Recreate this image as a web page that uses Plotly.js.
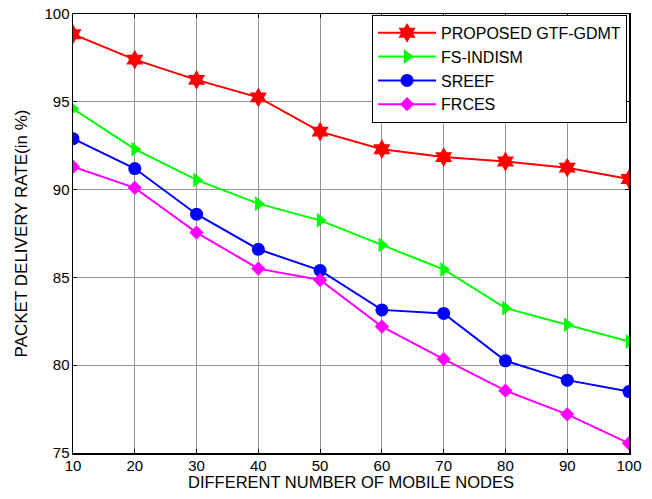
<!DOCTYPE html>
<html><head><meta charset="utf-8">
<script src="https://cdn.plot.ly/plotly-3.0.1.min.js"></script>
<style>html,body{margin:0;padding:0;background:#fff;}#c{width:652px;height:499px;}</style>
</head><body><div id="c"></div>
<script>
const nodes = [10,20,30,40,50,60,70,80,90,100];
const proposed = [98.85,97.4,96.25,95.25,93.3,92.3,91.85,91.6,91.25,90.6];
const fsIndism = [94.6,92.3,90.55,89.2,88.25,86.85,85.45,83.25,82.3,81.35];
const sreef = [92.9,91.2,88.6,86.6,85.4,83.15,82.95,80.25,79.15,78.5];
const frces = [91.3,90.1,87.55,85.5,84.85,82.2,80.35,78.55,77.2,75.55];
const names = ["PROPOSED GTF-GDMT","FS-INDISM","SREEF","FRCES"];
const yTicks = [75,80,85,90,95,100];
const colors = ["#ff0000","#00ff00","#0000ff","#ff00ff"];
const symbols = ["hexagram","triangle-right","circle","diamond"];
const sizes = [15,13,13,11];
const series = [proposed,fsIndism,sreef,frces];
const traces = series.map((s,i)=>({
  x: nodes, y: s, name: names[i], type:'scatter', mode:'lines+markers',
  line:{color:colors[i], width:2},
  marker:{symbol:symbols[i], size:sizes[i], color:colors[i], line:{width:0}}
}));
const fam = '"Liberation Sans", Arial, sans-serif';
const layout = {
  width:652, height:499,
  margin:{l:73, r:23, t:14, b:46},
  paper_bgcolor:'#fff', plot_bgcolor:'#fff',
  font: {family:fam, size:15, color:'#000'},
  showlegend:true,
  legend:{x:0.9965, xanchor:'right', y:0.998, yanchor:'top', bgcolor:'#fff', bordercolor:'#000', borderwidth:1,
    font:{family:fam, size:16, color:'#000'}, itemwidth:58, tracegroupgap:0},
  xaxis:{range:[10,100], tickvals:nodes, showgrid:true, gridcolor:'#959595', gridwidth:1,
    showline:true, linecolor:'#000', linewidth:1.5, mirror:'ticks', ticks:'inside', ticklen:4, tickcolor:'#000',
    zeroline:false, tickfont:{size:15}, ticklabelstandoff:-2,
    title:{text:'DIFFERENT NUMBER OF MOBILE NODES', font:{size:16.5}, standoff:3}},
  yaxis:{range:[75,100], tickvals:yTicks, showgrid:true, gridcolor:'#959595', gridwidth:1,
    showline:true, linecolor:'#000', linewidth:1.5, mirror:'ticks', ticks:'inside', ticklen:4, tickcolor:'#000',
    zeroline:false, tickfont:{size:15}, ticklabelstandoff:-1,
    title:{text:'PACKET DELIVERY RATE(in %)', font:{size:17}, standoff:12}}
};
Plotly.newPlot('c', traces, layout, {displayModeBar:false, staticPlot:true});
</script></body></html>
